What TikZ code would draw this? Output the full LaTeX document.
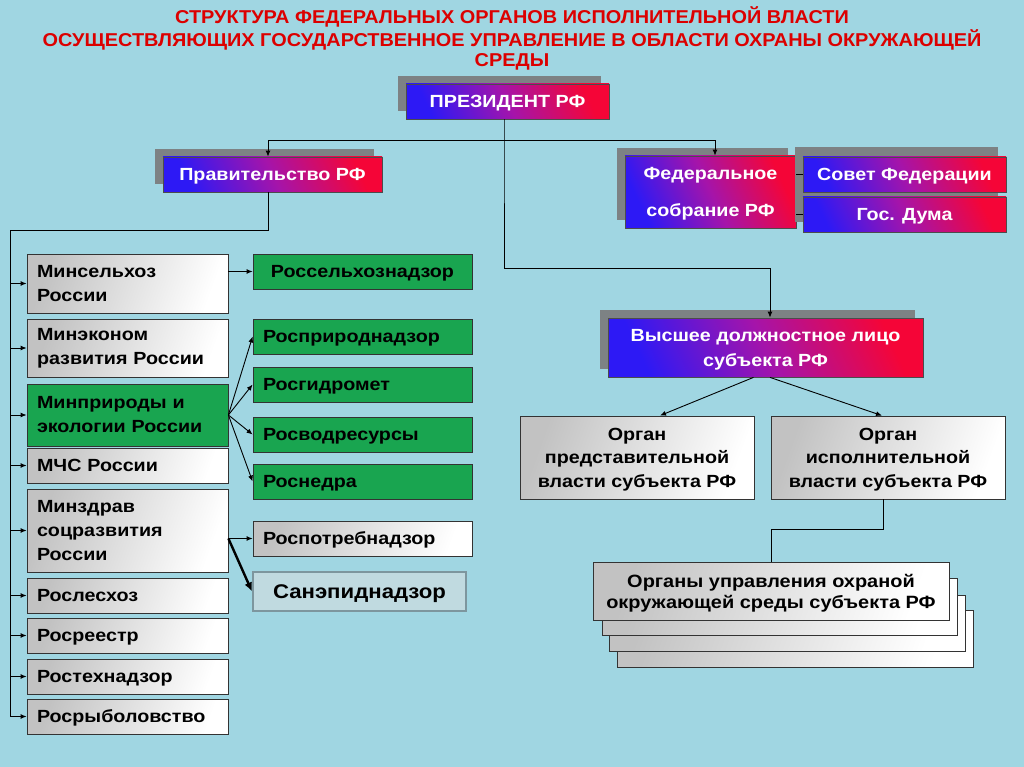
\documentclass[tikz,border=0pt]{standalone}
\usepackage{fontspec}
\setmainfont{Liberation Sans}
\newfontfamily\bx[FakeStretch=1.12]{Liberation Sans}
\newfontfamily\tx[FakeStretch=1.07]{Liberation Sans}
\usetikzlibrary{arrows.meta,shadows}
\definecolor{bgc}{RGB}{160,214,226}
\definecolor{pblue}{RGB}{45,25,245}
\definecolor{pmid}{RGB}{165,20,170}
\definecolor{pred}{RGB}{245,5,55}
\definecolor{grn}{RGB}{25,165,80}
\definecolor{shd}{RGB}{125,130,132}
\definecolor{ttl}{RGB}{220,0,0}
\definecolor{sanf}{RGB}{192,218,224}
\definecolor{sand}{RGB}{125,150,158}
\tikzset{
  x=1pt,y=-1pt,
  box/.style={rectangle,inner sep=0pt,font=\bx\fontsize{17.6}{24}\selectfont\bfseries},
  cen/.style={align=center,text depth=0pt},
  one/.style={text depth=0pt},
  purp0/.style={box,cen,draw=black!70,line width=0.8pt,left color=pblue,right color=pred,middle color=pmid,shading angle=115,text=white},
  purp/.style={purp0,general shadow={shadow xshift=-8pt,shadow yshift=8pt,fill=shd}},
  gshade/.style={left color=black!24,right color=white,shading angle=70},
  gbox/.style={box,draw=black!80,line width=0.8pt,gshade,text=black},
  grbox/.style={box,draw=black!80,line width=0.8pt,fill=grn,text=black},
  lcol/.style={align=left,text width=181pt,inner xsep=10pt,minimum width=201pt},
  mcol/.style={align=left,text width=199pt,inner xsep=10pt,minimum width=219pt,minimum height=35pt,one},
  ln/.style={draw=black,line width=0.9pt},
  arr/.style={ln,-{Latex[length=6pt,width=5pt]}},
  title/.style={text=ttl,font=\tx\fontsize{18.6}{22}\selectfont\bfseries}
}
\begin{document}
\begin{tikzpicture}
\useasboundingbox (0,0) rectangle (1024,767);
\fill[bgc] (0,0) rectangle (1024,767);
% title
\node[title] (t1) at (512,17) {СТРУКТУРА ФЕДЕРАЛЬНЫХ ОРГАНОВ ИСПОЛНИТЕЛЬНОЙ ВЛАСТИ};
\node[title] (t2) at (512,40) {ОСУЩЕСТВЛЯЮЩИХ ГОСУДАРСТВЕННОЕ УПРАВЛЕНИЕ В ОБЛАСТИ ОХРАНЫ ОКРУЖАЮЩЕЙ};
\node[title] (t3) at (512,62) {СРЕДЫ};
% top level
\node[purp,minimum width=203pt,minimum height=35pt] (pres) at (507.5,101.5) {ПРЕЗИДЕНТ РФ};
\node[purp,minimum width=219pt,minimum height=35pt] (gov) at (272.5,174.5) {Правительство РФ};
\node[purp,minimum width=171pt,minimum height=72pt,font=\bx\fontsize{17.6}{37}\selectfont\bfseries] (fed) at (710.5,192) {Федеральное\\собрание РФ};
\fill[shd] (795,147) rectangle (998,222);
\node[purp0,minimum width=203pt,minimum height=35pt] (sov) at (904.5,174.5) {Совет Федерации};
\node[purp0,minimum width=203pt,minimum height=35pt] (duma) at (904.5,214.5) {Гос. Дума};
\node[purp,minimum width=315pt,minimum height=59pt,font=\bx\fontsize{17.6}{25}\selectfont\bfseries] (vys) at (765.5,347.5) {Высшее должностное лицо\\субъекта РФ};
% left column
\node[gbox,lcol,minimum height=59pt] (m1) at (127.5,283.5) {Минсельхоз\\России};
\node[gbox,lcol,minimum height=58pt] (m2) at (127.5,348) {Минэконом\\развития России};
\node[grbox,lcol,minimum height=62pt] (m3) at (127.5,415) {Минприроды и\\экологии России};
\node[gbox,lcol,one,minimum height=35pt] (m4) at (127.5,465.5) {МЧС России};
\node[gbox,lcol,minimum height=83pt] (m5) at (127.5,530.5) {Минздрав\\соцразвития\\России};
\node[gbox,lcol,one,minimum height=35pt] (m6) at (127.5,595.5) {Рослесхоз};
\node[gbox,lcol,one,minimum height=35pt] (m7) at (127.5,635.5) {Росреестр};
\node[gbox,lcol,one,minimum height=35pt] (m8) at (127.5,676.5) {Ростехнадзор};
\node[gbox,lcol,one,minimum height=35pt] (m9) at (127.5,716.5) {Росрыболовство};
% middle column
\node[grbox,cen,minimum width=219pt,minimum height=35pt] (r1) at (362.5,271.5) {Россельхознадзор};
\node[grbox,mcol] (r2) at (362.5,336.5) {Росприроднадзор};
\node[grbox,mcol] (r3) at (362.5,384.5) {Росгидромет};
\node[grbox,mcol] (r4) at (362.5,434.5) {Росводресурсы};
\node[grbox,mcol] (r5) at (362.5,481.5) {Роснедра};
\node[gbox,mcol] (r6) at (362.5,538.5) {Роспотребнадзор};
\node[box,cen,draw=sand,line width=2pt,fill=sanf,minimum width=213pt,minimum height=39pt,font=\bx\fontsize{19.8}{22}\selectfont\bfseries] (san) at (359.5,591.5) {Санэпиднадзор};
% regional
\node[gbox,cen,minimum width=234pt,minimum height=83pt,font=\bx\fontsize{17.6}{23.5}\selectfont\bfseries] (orgP) at (637,457.5) {Орган\\представительной\\власти субъекта РФ};
\node[gbox,cen,minimum width=234pt,minimum height=83pt,font=\bx\fontsize{17.6}{23.5}\selectfont\bfseries] (orgI) at (888,457.5) {Орган\\исполнительной\\власти субъекта РФ};
\filldraw[draw=black!80,line width=0.8pt,gshade] (617,610) rectangle (973,667);
\filldraw[draw=black!80,line width=0.8pt,gshade] (609,595) rectangle (965,651);
\filldraw[draw=black!80,line width=0.8pt,gshade] (602,578) rectangle (957,635);
\node[gbox,cen,minimum width=356pt,minimum height=58pt,font=\bx\fontsize{17.8}{21}\selectfont\bfseries] (orgU) at (771,591) {Органы управления охраной\\окружающей среды субъекта РФ};
% connectors
\coordinate (j1) at (504,140);
\coordinate (j2) at (504,268);
\draw[ln] ([xshift=-3.5pt]pres.south) -- (j1) -- (j2);
\draw[arr] (j1) -| ([xshift=-4.5pt]gov.north);
\draw[arr] (j1) -| ([xshift=4.5pt]fed.north);
\draw[arr] (j2) -| ([xshift=4.5pt]vys.north);
\draw[ln] (fed.east |- sov.west) -- (sov.west);
\draw[ln] (fed.east |- duma.west) -- (duma.west);
\coordinate (bt) at (10,230);
\coordinate (bb) at (10,716.5);
\draw[ln] ([xshift=-4.5pt]gov.south) |- (bt) -- (bb);
\foreach \m in {m1,m2,m3,m4,m5,m6,m7,m8,m9}{\draw[arr] (bt |- \m.west) -- (\m.west);}
\draw[arr] (m1.east |- r1.west) -- (r1.west);
\draw[arr] (m3.east) -- (r2.west);
\draw[arr] (m3.east) -- (r3.west);
\draw[arr] (m3.east) -- (r4.west);
\draw[arr] (m3.east) -- (r5.west);
\draw[arr] (m5.east |- r6.west) -- (r6.west);
\draw[ln,line width=2.4pt,-{Latex[length=9pt,width=8pt]}] (m5.east |- r6.west) -- (san.west);
\draw[arr] ([xshift=-12pt]vys.south) -- ([xshift=23pt]orgP.north);
\draw[arr] ([xshift=4.5pt]vys.south) -- ([xshift=-6pt]orgI.north);
\draw[ln] ([xshift=-5pt]orgI.south) -- ++(0,30) -| (orgU.north);
\end{tikzpicture}
\end{document}
